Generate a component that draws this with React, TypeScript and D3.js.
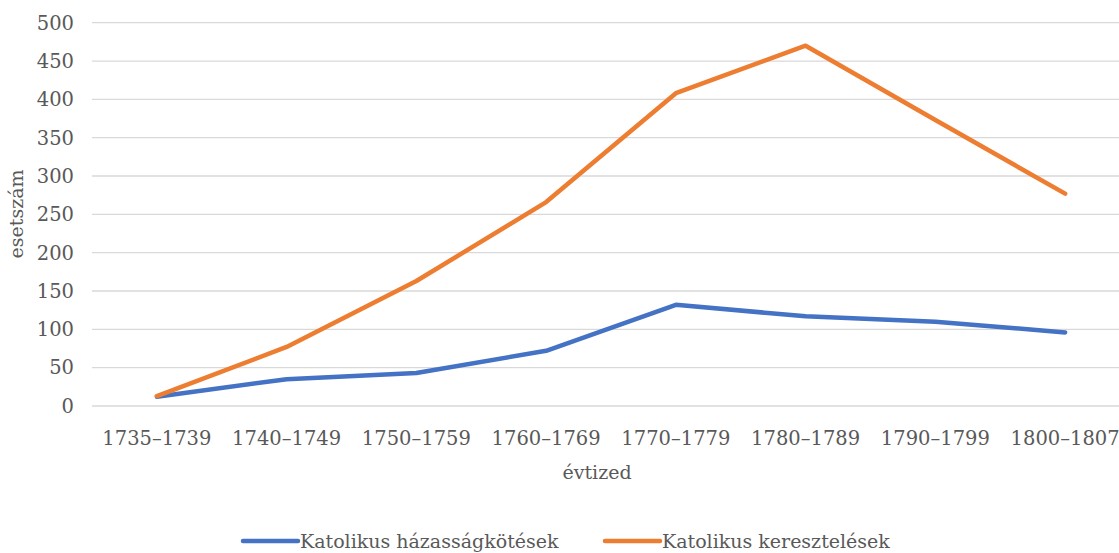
import React, { useRef, useEffect } from 'react';
import * as d3 from 'd3';

const decades = ['1735–1739', '1740–1749', '1750–1759', '1760–1769', '1770–1779', '1780–1789', '1790–1799', '1800–1807'];
const marriages = [12, 35, 43, 72, 132, 117, 110, 96];
const baptisms = [13, 77, 163, 266, 408, 470, 373, 277];
const yTicks = [0, 50, 100, 150, 200, 250, 300, 350, 400, 450, 500];

const seriesNames = ['Katolikus házasságkötések', 'Katolikus keresztelések'];
const seriesColors = ['#4472C4', '#ED7D31'];

const W = 1119;
const H = 553;
const FONT = "'DejaVu Serif', serif";

const App = () => {
    const svgRef = useRef<SVGSVGElement>(null);

    useEffect(() => {
        const svg = d3.select(svgRef.current);
        svg.selectAll('*').remove();

        const left = 92;
        const right = 1130;
        const top = 22.7;
        const bottom = 406;

        const x = d3.scaleBand().domain(decades).range([left, right]);
        const y = d3.scaleLinear().domain([0, 500]).range([bottom, top]);

        const root = svg.append('g').style('font-family', FONT);

        // gridlines
        root.append('g')
            .selectAll('line')
            .data(yTicks)
            .enter()
            .append('line')
            .attr('x1', left)
            .attr('x2', right)
            .attr('y1', (d) => y(d))
            .attr('y2', (d) => y(d))
            .attr('stroke', '#D9D9D9')
            .attr('stroke-width', 1.3);

        // y tick labels
        root.append('g')
            .selectAll('text')
            .data(yTicks)
            .enter()
            .append('text')
            .attr('x', 74)
            .attr('y', (d) => y(d))
            .attr('dy', '0.35em')
            .attr('text-anchor', 'end')
            .attr('font-size', 19.5)
            .attr('fill', '#595959')
            .text((d) => d);

        // x tick labels
        root.append('g')
            .selectAll('text')
            .data(decades)
            .enter()
            .append('text')
            .attr('x', (d) => (x(d) as number) + x.bandwidth() / 2)
            .attr('y', 445)
            .attr('text-anchor', 'middle')
            .attr('font-size', 19.5)
            .attr('fill', '#595959')
            .text((d) => d);

        // axis titles
        root.append('text')
            .attr('transform', `translate(23, 214) rotate(-90)`)
            .attr('text-anchor', 'middle')
            .attr('font-size', 19)
            .attr('fill', '#595959')
            .text('esetszám');

        root.append('text')
            .attr('x', 597)
            .attr('y', 479)
            .attr('text-anchor', 'middle')
            .attr('font-size', 19)
            .attr('fill', '#595959')
            .text('évtized');

        const line = d3
            .line<number>()
            .x((_, i) => (x(decades[i]) as number) + x.bandwidth() / 2)
            .y((d) => y(d));

        [marriages, baptisms].forEach((s, i) => {
            root.append('path')
                .datum(s)
                .attr('d', line)
                .attr('fill', 'none')
                .attr('stroke', seriesColors[i])
                .attr('stroke-width', 4.5)
                .attr('stroke-linejoin', 'round')
                .attr('stroke-linecap', 'round');
        });

        // legend
        const legendX = [243, 605];
        seriesNames.forEach((name, i) => {
            const g = root.append('g').attr('transform', `translate(${legendX[i]}, 541)`);
            g.append('line')
                .attr('x1', 0)
                .attr('x2', 55)
                .attr('stroke', seriesColors[i])
                .attr('stroke-width', 4.5)
                .attr('stroke-linecap', 'round');
            g.append('text')
                .attr('x', 57)
                .attr('dy', '0.35em')
                .attr('font-size', 19)
                .attr('fill', '#595959')
                .text(name);
        });
    }, []);

    return (
        <svg
            ref={svgRef}
            width={W}
            height={H}
            style={{ position: 'absolute', left: 0, top: 0, background: '#fff' }}
        ></svg>
    );
};

export default App;
